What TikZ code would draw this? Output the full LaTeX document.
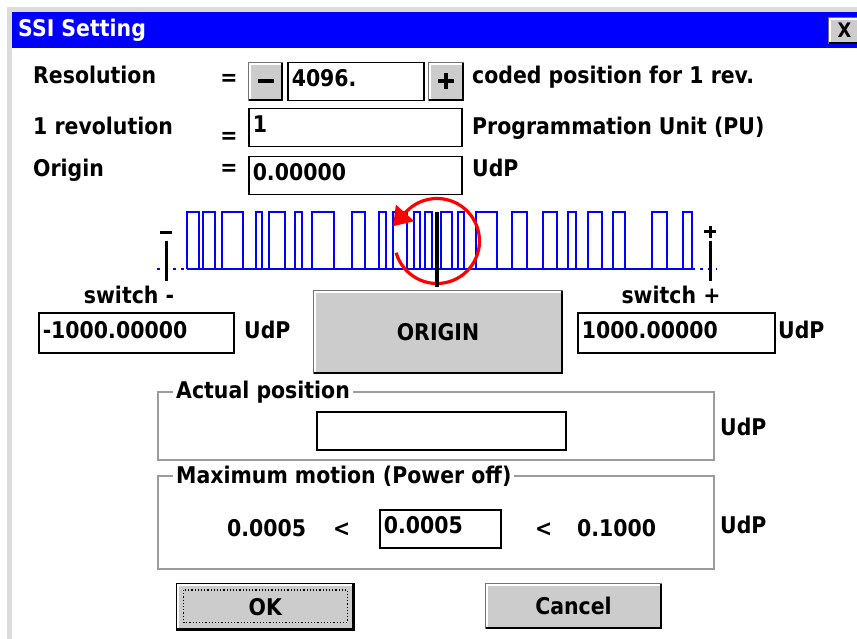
\documentclass[tikz,border=0pt]{standalone}
\usepackage{fontspec}
\usetikzlibrary{arrows.meta,positioning}
\newfontfamily\uifont{DejaVu Sans}[FakeStretch=0.89]
\definecolor{Caption}{HTML}{0000FF}
\definecolor{Face}{HTML}{CCCCCC}
\definecolor{Rim}{HTML}{DCDCDC}
\definecolor{Etch}{HTML}{9C9C9C}
\definecolor{Trace}{HTML}{0000FF}
\definecolor{Spin}{HTML}{FF0000}

\begin{document}
\begin{tikzpicture}[
        x=1pt, y=-1pt,
        every node/.style={font=\uifont\bfseries\fontsize{23}{26}\selectfont, inner sep=0pt},
        txt/.style={anchor=base west},
        field/.style={draw=black, line width=1.5pt, fill=white, anchor=north west, inner xsep=4pt,
          inner ysep=2pt, text height=22pt, text depth=12pt, align=left},
        btn/.style={draw=black!55, line width=1pt, fill=Face, anchor=north west},
        group/.style={draw=Etch, line width=1.5pt},
        tag/.style={fill=white, inner xsep=3pt, anchor=west},
        wave/.style={draw=Trace, line width=1.8pt},
        spin/.style={draw=Spin, line width=3.2pt, -{Triangle[length=18pt, width=24pt]}},
        lit/.style={draw=white, line width=2pt},
        dim/.style={draw=black, line width=2.5pt}
      ]
        \useasboundingbox (0,0) rectangle (857,639);
        \fill[Rim] (7,7) rectangle (860,642);
        \fill[white] (12,12) rectangle (860,642);
        \node[fill=Caption, anchor=north west, minimum width=850pt, minimum height=36pt] (caption) at (12,12) {};
        \node[txt, text=white] (title) at (18,37) {SSI Setting};
        \node[btn, minimum width=32pt, minimum height=26pt, font=\uifont\bfseries\fontsize{20}{22}\selectfont] (close) at (828,17) {X};

        \node[txt] (reslbl) at (33,84) {Resolution};
        \node[txt] (revlbl) at (33,135) {1 revolution};
        \node[txt] (orglbl) at (33,177) {Origin};
        \node (eqres) at (229,80) {=};
        \node (eqrev) at (229,138) {=};
        \node (eqorg) at (229,170) {=};
        \node[btn, minimum width=34pt, minimum height=38pt] (minus) at (248,62) {};
        \node[field, text width=128pt] (resval) at (287,62) {4096.};
        \node[btn, minimum width=35pt, minimum height=38pt] (plus) at (428,62) {};
        \node[txt] (resunit) at (472,84) {coded position for 1 rev.};
        \node[field, text width=205pt] (revval) at (248,108) {1};
        \node[txt] (revunit) at (472,135) {Programmation Unit (PU)};
        \node[field, text width=205pt] (orgval) at (248,156) {0.00000};
        \node[txt] (orgunit) at (472,177) {UdP};
        \draw[line width=4pt] ([xshift=-8pt]minus.center) -- ([xshift=8pt]minus.center);
        \draw[line width=4pt] ([xshift=-8pt]plus.center) -- ([xshift=8pt]plus.center)
          ([yshift=-8pt]plus.center) -- ([yshift=8pt]plus.center);

        \draw[wave, dash pattern=on 3pt off 5pt] (157,269) -- (187,269);
        \draw[wave] (187,269) -- (692,269);
        \draw[wave, dash pattern=on 3pt off 5pt] (692,269) -- (717,269);
        \foreach \a/\b in {187/199, 203/215, 222/243, 256/262, 269/285, 295/302, 312/334, 352/365,
            379/386, 393/407, 414/420, 425/432, 441/452, 458/464, 476/497, 512/527, 543/557,
            568/576, 588/602, 613/625, 652/667, 683/692}
          \draw[wave] (\a,269) |- (\b,212) -- (\b,269);
        \draw[line width=3pt] (166,241) -- (166,281) (160,233) -- (172,233);
        \draw[line width=3pt] (710,241) -- (710,281) (704,232) -- (716,232) (710,226) -- (710,238);
        \coordinate (hub) at (437,241);
        \draw[spin] ([shift={(164:42.5)}]hub) arc[start angle=164, end angle=-138, radius=42.5] -- ++(-12.4,13.7);
        \draw[line width=3.3pt] (437,212) -- (437,287);

        \node[anchor=base] (swminus) at (129,303) {switch -};
        \node[anchor=base] (swplus) at (671,303) {switch +};
        \node[field, text width=187pt, text height=24pt] (lowval) at (38,312) {-1000.00000};
        \node[txt] (lowunit) at (244,338) {UdP};
        \node[btn, minimum width=249pt, minimum height=83pt] (origin) at (313,290) {ORIGIN};
        \node[field, text width=189pt, text height=24pt] (highval) at (577,312) {1000.00000};
        \node[txt] (highunit) at (778,338) {UdP};

        \draw[group] (158,392) rectangle (714,460);
        \node[tag] (actlbl) at (173,392) {Actual position};
        \node[field, text width=241pt] (actval) at (316,411) {};
        \node[txt] (actunit) at (720,435) {UdP};

        \draw[group] (158,476) rectangle (714,569);
        \node[tag] (maxlbl) at (173,476) {Maximum motion (Power off)};
        \node[txt] (minval) at (227,536) {0.0005};
        \node[txt] (ltlow) at (333,536) {<};
        \node[field, text width=113pt] (maxval) at (379,509) {0.0005};
        \node[txt] (lthigh) at (535,536) {<};
        \node[txt] (maxlim) at (577,536) {0.1000};
        \node[txt] (maxunit) at (720,533) {UdP};

        \node[btn, draw=black, line width=2.5pt, minimum width=176pt, minimum height=45pt] (ok) at (176,583) {OK};
        \node[btn, minimum width=176pt, minimum height=45pt] (cancel) at (485,583) {Cancel};
        \foreach \b in {close,minus,plus,origin,ok,cancel}{
          \draw[lit] ([shift={(2,-2)}]\b.south west) |- ([shift={(-2,2)}]\b.north east);
          \draw[dim] ([shift={(1,-1)}]\b.south west) -| ([shift={(-1,1)}]\b.north east);
        }
        \draw[dotted, line width=1.2pt] ([shift={(7.5,7)}]ok.north west) rectangle ([shift={(-7,-8)}]ok.south east);
      \end{tikzpicture}
\end{document}
